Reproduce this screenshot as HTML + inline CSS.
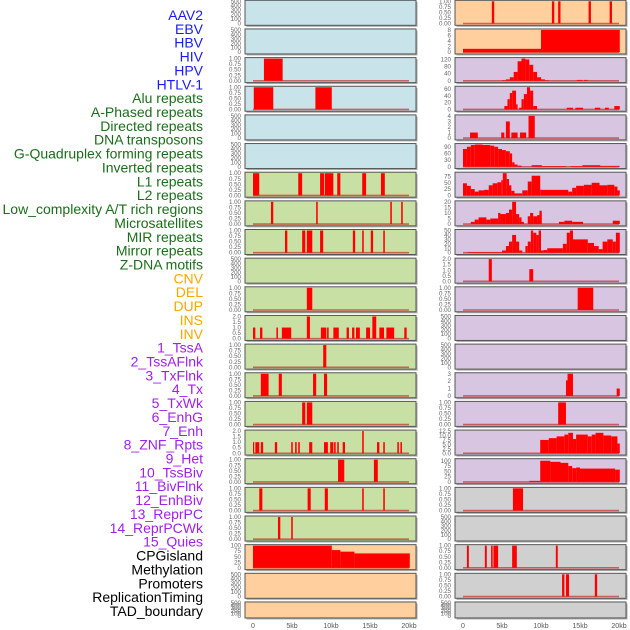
<!DOCTYPE html>
<html><head><meta charset="utf-8">
<style>
html,body{margin:0;padding:0;background:#fff;}
svg{display:block;font-family:"Liberation Sans",sans-serif;}
</style></head>
<body>
<svg id="chart" width="630" height="630" viewBox="0 0 630 630"></svg>
<script>
// ---- data ----
const labels = ["AAV2","EBV","HBV","HIV","HPV","HTLV-1","Alu repeats","A-Phased repeats","Directed repeats","DNA transposons","G-Quadruplex forming repeats","Inverted repeats","L1 repeats","L2 repeats","Low_complexity A/T rich regions","Microsatellites","MIR repeats","Mirror repeats","Z-DNA motifs","CNV","DEL","DUP","INS","INV","1_TssA","2_TssAFlnk","3_TxFlnk","4_Tx","5_TxWk","6_EnhG","7_Enh","8_ZNF_Rpts","9_Het","10_TssBiv","11_BivFlnk","12_EnhBiv","13_ReprPC","14_ReprPCWk","15_Quies","CPGisland","Methylation","Promoters","ReplicationTiming","TAD_boundary"];
const labelGroups = ["virus","virus","virus","virus","virus","virus","repeat","repeat","repeat","repeat","repeat","repeat","repeat","repeat","repeat","repeat","repeat","repeat","repeat","sv","sv","sv","sv","sv","chrom","chrom","chrom","chrom","chrom","chrom","chrom","chrom","chrom","chrom","chrom","chrom","chrom","chrom","chrom","other","other","other","other","other"];

const E=[0,100,200,300,400,500], P=[0,0.25,0.5,0.75,1], T2=[0,0.5,1,1.5,2];
const leftTicks=[E,E,P,P,E,E,P,P,P,E,P,T2,P,P,P,T2,P,P,P,[0,25,50,75,100],E,E];
const leftYmax=[500,500,1,1,500,500,1,1,1,500,1,2,1,1,1,2,1,1,1,100,500,500];
const leftBg=["blue","blue","blue","blue","blue","blue","green","green","green","green","green","green","green","green","green","green","green","green","green","peach","peach","peach"];
const leftSegs=[
 [],[],
 [[1.4,3.8,1]],
 [[0.1,2.6,1],[8,10.1,1]],
 [],[],
 [[0,0.8,1],[5.8,6.3,1],[8.6,9.1,1],[9.2,10.3,1],[10.8,11.2,1],[14,14.5,1],[16.4,16.9,1]],
 [[2.3,2.6,1],[8.1,8.3,1],[17.6,17.8,1],[19,19.2,1]],
 [[4.1,4.4,1],[6.3,6.7,1],[6.9,7.6,1],[8.6,9,1],[12.8,13.1,1],[14,14.2,1],[15.1,15.4,1],[16.7,16.9,1]],
 [],
 [[6.9,7.6,1]],
 [[0,0.3,1],[0.9,1.2,1],[3,3.2,1],[3.7,4.9,1],[6.9,7.3,2],[8.7,9.4,1],[9.5,9.7,1],[10.3,11,1],[12,12.3,1],[12.7,13,1],[13.2,13.7,1],[14.5,15,1],[15.3,15.8,2],[16.2,16.8,1],[17.1,18.1,1],[19.4,19.7,1]],
 [[9,9.4,1]],
 [[1,2,1],[3.3,3.7,1],[7.7,8.1,1],[9.1,9.5,1]],
 [[6.3,6.7,1],[6.9,7.6,1]],
 [[0,0.1,1],[0.3,0.8,1],[1,1.3,1],[2.8,3.1,1],[4.9,5.1,1],[5.4,5.6,1],[5.8,6,1],[7.2,7.6,1],[9.1,9.6,1],[9.9,10.3,1],[10.4,10.6,1],[10.8,11,1],[11.5,11.8,1],[14,14.2,2],[15.9,16.2,1],[16.7,16.9,1],[18.5,18.7,1],[18.9,19.1,1]],
 [[10.9,11.7,1],[15.5,16,1]],
 [[0.8,1.2,1],[7,7.4,1],[9.2,9.6,1],[14,14.2,1],[16.7,16.9,1]],
 [[3.2,3.5,1],[4.9,5.1,1]],
 [[0,10.1,100],[10.1,11.2,80],[11.2,13,73],[13,20.1,65]],
 [],[]
];
const rightTicks=[P,[0,2,4,6,8],[0,40,80,120],[0,20,40,60],[0,1,2,3,4],[0,30,60,90],[0,25,50,75],[0,5,10,15,20],[0,10,20,30,40,50],T2,P,E,E,[0,1,2,3],P,[0,2.5,5,7.5,10,12.5],[0,25,50,75,100],P,E,P,P,E];
const rightYmax=[1,8,125,65,4,100,88,20,50,2,1,500,500,3,1,12.5,105,1,500,1,1,500];
const rightBg=["peach","peach","purple","purple","purple","purple","purple","purple","purple","purple","purple","purple","purple","purple","purple","purple","purple","grey","grey","grey","grey","grey"];
const rightSegs=[
 [[3.7,4,1],[11.4,11.7,1],[12.2,12.5,1],[16.1,16.4,1],[18.8,19.1,1]],
 [[0,10,1.2],[10,20.1,8]],
 [[5,5.5,3],[5.5,6,8],[6,6.5,20],[6.5,7,50],[7,7.5,110],[7.5,8,125],[8,8.5,120],[8.5,9,90],[9,9.5,50],[9.5,10,20],[10,10.5,8],[10.5,11,3],[14.6,15.3,5],[15.5,16,5]],
 [[5.3,5.7,10],[5.7,6,30],[6,6.3,48],[6.3,6.8,55],[6.8,7,15],[7.2,7.5,5],[7.5,7.8,30],[7.8,8.2,45],[8.2,8.6,65],[8.6,9,55],[9,9.5,10],[13.3,14.1,5],[14.4,15.4,5],[16.9,17.6,5],[18.2,18.7,5],[19.4,20.1,10]],
 [[0.9,1.9,1],[4.9,5.3,1],[5.5,6,3],[6.2,7,1],[7.3,8.1,1],[8.4,9.2,4]],
 [[0,0.5,80],[0.5,1,90],[1,1.5,98],[1.5,2.5,100],[2.5,3.5,98],[3.5,4,95],[4,4.5,90],[4.5,5,80],[5,5.5,75],[5.5,6,70],[6,6.3,60],[6.3,6.6,20],[6.6,7,10],[7,7.5,5],[8.8,10.1,7],[10.1,13.2,3],[13.8,15.3,3],[15.3,17.6,7],[17.6,20.1,4]],
 [[0,0.5,48],[0.5,1,38],[1,1.5,25],[1.5,2,15],[2,2.7,20],[2.7,3.3,22],[3.3,3.8,40],[3.8,4.4,48],[4.4,4.9,52],[4.9,5.1,60],[5.1,5.6,88],[5.6,5.9,65],[5.9,6.2,40],[6.2,6.6,18],[6.6,7.6,8],[7.6,8.3,20],[8.3,8.8,55],[8.8,9.9,78],[9.9,13.5,22],[13.5,14,15],[14,14.5,30],[14.5,15.5,38],[15.5,16.5,42],[16.5,17.5,50],[17.5,18.5,40],[18.5,19.4,42],[19.4,19.8,35],[19.8,20.1,20]],
 [[1,1.5,2],[1.5,2,4],[2,3,6],[3,3.5,4],[3.5,4.5,5],[4.5,4.8,10],[4.8,5.5,9],[5.5,5.9,10],[5.9,6.3,13],[6.3,6.8,20],[6.8,7.2,9],[7.2,7.5,6],[7.5,7.8,2],[8.3,8.6,7],[8.6,9,10],[9,9.5,7],[9.5,9.8,8],[9.8,10.1,12],[12.3,13,2],[13,14,3],[14,15.4,2],[19.2,20.1,3]],
 [[0.6,5,1.5],[5,5.5,5],[5.5,5.9,15],[5.9,6.3,25],[6.3,6.8,40],[6.8,7.2,25],[7.2,7.6,5],[8,8.3,15],[8.3,8.7,25],[8.7,9,50],[9,9.4,45],[9.4,9.7,40],[9.7,10,50],[10,10.3,5],[10.3,10.8,6],[10.8,12.8,10],[12.8,13.3,20],[13.3,13.7,45],[13.7,14.1,50],[14.1,16,30],[16,16.8,22],[16.8,17.4,15],[17.4,17.9,8],[17.9,18.5,25],[18.5,19.2,30],[19.2,19.6,25],[19.6,20.1,45]],
 [[3.3,3.7,2],[8.5,9,1.1]],
 [[14.7,16.7,1]],
 [],[],
 [[13.2,13.4,2.1],[13.4,14.1,3],[19.7,20.1,1]],
 [[12.2,13.2,1]],
 [[9.9,11,7.5],[11,12,8.5],[12,13,9.5],[13,13.5,10.5],[13.5,14.1,11.5],[14.1,14.5,8],[14.5,16,10.5],[16,16.5,9.5],[16.5,17,10.5],[17,18,11.5],[18,19,10],[19,19.8,9.5],[19.8,20.1,5.5]],
 [[8.5,9.9,5],[9.9,11.2,100],[11.2,12.5,95],[12.5,13.5,90],[13.5,14,75],[14,14.5,65],[14.5,15,68],[15,19.5,63],[19.5,20.1,58]],
 [[6.4,7.7,1]],
 [],
 [[0.5,0.75,1],[2.8,3.05,1],[3.6,3.8,1],[3.9,4.5,1],[6.3,6.9,1],[11.9,12.15,1]],
 [[12.7,13,1],[13.2,13.6,1],[16.9,17.2,1]],
 []
];
const xTickVals=[0,5,10,15,20];
const xTickLabels=["0","5kb","10kb","15kb","20kb"];

// ---- drawing ----
const NS="http://www.w3.org/2000/svg";
const svg=document.getElementById('chart');
const groupColor={virus:"#1a1aff",repeat:"#1a6e1a",sv:"#ffa500",chrom:"#a020f0",other:"#000000"};
const bgColor={blue:"#c8e3ea",green:"#c8e0a4",peach:"#ffd09e",purple:"#d8c5e1",grey:"#d0d0d0"};
function mk(tag,attrs,parent){const e=document.createElementNS(NS,tag);for(const k in attrs)e.setAttribute(k,attrs[k]);(parent||svg).appendChild(e);return e;}

labels.forEach((t,i)=>{
  const el=mk('text',{x:203,y:20+i*13.86,'text-anchor':'end','font-size':'14',fill:groupColor[labelGroups[i]]});
  el.textContent=t;
  
  
});

const PITCH=28.65;
function drawColumn(x0, segsArr, ymaxArr, ticksArr, bgArr, side){
  const dataX0=x0+8, dataX1=x0+164;
  const xs=v=>dataX0+(v/20)*(dataX1-dataX0);
  for(let i=0;i<segsArr.length;i++){
    const top=0.3+i*PITCH;
    const PH=(i===segsArr.length-1)?16:25;
    const yTop=top+1, yBot=top+PH-1.8;
    const ys=v=>yBot-(v/ymaxArr[i])*(yBot-yTop);
    const g=mk('g',{});
    
    
    mk('rect',{x:x0+1.5,y:top+1.5,width:171,height:PH,fill:'#aaa'},g);
    mk('rect',{x:x0,y:top,width:171,height:PH,fill:bgColor[bgArr[i]],stroke:'#555',"stroke-width":1},g);
    ticksArr[i].forEach((tv,k)=>{
      const dec=ticksArr[i]===P?2:(ticksArr[i]===T2||ticksArr[i][1]===2.5?1:0);
      const lab=mk('text',{x:x0-4,y:ys(tv)+2,'text-anchor':'end','font-size':'6.2',fill:'#666'},g);
      lab.textContent=tv.toFixed(dec);
      
      
    });
    if(segsArr[i].length){
      const bl=mk('line',{x1:xs(0),x2:xs(20),y1:yBot,y2:yBot,stroke:'rgba(190,0,0,0.55)','stroke-width':1.6},g);
      
      
    }
    segsArr[i].forEach(s=>{
      const r=mk('rect',{x:xs(s[0]),y:ys(s[2]),width:Math.max(1.2,xs(s[1])-xs(s[0])),height:yBot-ys(s[2]),fill:'#ff0000'},g);
      
      
    });
  }
  xTickVals.forEach((v,k)=>{
    const t=mk('text',{x:xs(v),y:628,'text-anchor':'middle','font-size':'7',fill:'#555'});
    t.textContent=xTickLabels[k];
    
    
  });
}
drawColumn(245,leftSegs,leftYmax,leftTicks,leftBg,'left');
drawColumn(455,rightSegs,rightYmax,rightTicks,rightBg,'right');
</script>
</body></html>
